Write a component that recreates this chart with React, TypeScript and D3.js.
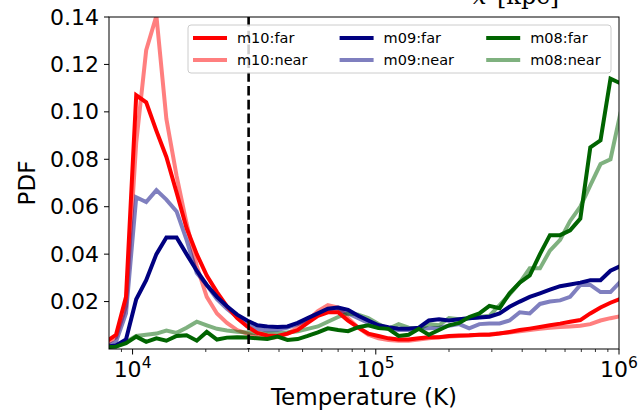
import React from "react";
import * as d3 from "d3";

// log10 of temperature bin centres (K)
const logTemperature = [
  3.890, 3.932, 3.973, 4.015, 4.056, 4.098, 4.139, 4.181, 4.222, 4.264,
  4.305, 4.347, 4.388, 4.430, 4.471, 4.513, 4.554, 4.596, 4.637, 4.679,
  4.720, 4.762, 4.803, 4.845, 4.886, 4.928, 4.969, 5.011, 5.052, 5.094,
  5.135, 5.177, 5.218, 5.260, 5.301, 5.343, 5.384, 5.426, 5.467, 5.509,
  5.550, 5.592, 5.633, 5.675, 5.716, 5.758, 5.799, 5.841, 5.882, 5.924,
  5.965, 6.007,
];

const m10Far = [
  0.003, 0.006, 0.022, 0.107, 0.104, 0.092, 0.081, 0.066, 0.051, 0.040,
  0.031, 0.024, 0.018, 0.013, 0.0095, 0.0068, 0.0057, 0.0055, 0.0065, 0.008,
  0.011, 0.014, 0.0155, 0.0155, 0.012, 0.009, 0.0065, 0.0055, 0.0045, 0.004,
  0.004, 0.0045, 0.005, 0.005, 0.0055, 0.0057, 0.0058, 0.006, 0.006, 0.0065,
  0.0072, 0.008, 0.0086, 0.0093, 0.010, 0.0107, 0.0115, 0.0122, 0.015, 0.0175,
  0.0195, 0.0212,
];
const m10Near = [
  0.002, 0.005, 0.018, 0.087, 0.126, 0.1405, 0.097, 0.073, 0.053, 0.035,
  0.022, 0.015, 0.011, 0.008, 0.0065, 0.005, 0.0045, 0.005, 0.0065, 0.009,
  0.012, 0.016, 0.0185, 0.0175, 0.013, 0.009, 0.006, 0.0045, 0.0038, 0.0035,
  0.0035, 0.004, 0.0045, 0.005, 0.0053, 0.0055, 0.0057, 0.006, 0.0062, 0.0066,
  0.007, 0.0075, 0.008, 0.0085, 0.009, 0.0093, 0.0095, 0.0098, 0.0105, 0.012,
  0.013, 0.0138,
];
const m09Far = [
  0.001, 0.0015, 0.004, 0.021, 0.029, 0.040, 0.047, 0.047, 0.040, 0.033,
  0.027, 0.022, 0.018, 0.0145, 0.012, 0.010, 0.0095, 0.0093, 0.0095, 0.011,
  0.013, 0.015, 0.017, 0.0175, 0.0165, 0.014, 0.012, 0.010, 0.0092, 0.0085,
  0.0085, 0.009, 0.012, 0.0125, 0.012, 0.0125, 0.013, 0.0133, 0.0136, 0.015,
  0.0178, 0.020, 0.022, 0.0235, 0.025, 0.0265, 0.0272, 0.028, 0.029, 0.029,
  0.033, 0.035,
];
const m09Near = [
  0.001, 0.003, 0.015, 0.064, 0.062, 0.067, 0.063, 0.058, 0.046, 0.032,
  0.027, 0.021, 0.017, 0.0135, 0.011, 0.0085, 0.0078, 0.008, 0.009, 0.0105,
  0.0125, 0.0145, 0.016, 0.0165, 0.015, 0.013, 0.011, 0.0095, 0.0085, 0.008,
  0.008, 0.0085, 0.0087, 0.009, 0.0098, 0.0105, 0.0087, 0.0105, 0.0108, 0.0108,
  0.012, 0.0155, 0.015, 0.019, 0.020, 0.0205, 0.022, 0.027, 0.027, 0.024,
  0.024, 0.0285,
];
const m08Far = [
  0.0008, 0.001, 0.0025, 0.0052, 0.003, 0.0045, 0.0035, 0.0055, 0.0058, 0.0035,
  0.0072, 0.004, 0.0048, 0.005, 0.0048, 0.0045, 0.0042, 0.0052, 0.0038, 0.0042,
  0.0055, 0.007, 0.0087, 0.008, 0.0075, 0.0092, 0.010, 0.0088, 0.0085, 0.0055,
  0.006, 0.0085, 0.006, 0.008, 0.010, 0.011, 0.0135, 0.015, 0.0182, 0.0172,
  0.0235, 0.028, 0.031, 0.040, 0.048, 0.048, 0.050, 0.055, 0.085, 0.088,
  0.114, 0.112,
];
const m08Near = [
  0.0008, 0.001, 0.003, 0.0055, 0.006, 0.0065, 0.0078, 0.0068, 0.009, 0.0115,
  0.010, 0.0085, 0.0078, 0.0073, 0.007, 0.0065, 0.0065, 0.0065, 0.007, 0.0075,
  0.0085, 0.0095, 0.0115, 0.0135, 0.015, 0.0145, 0.013, 0.0105, 0.0085, 0.0105,
  0.009, 0.0085, 0.0105, 0.010, 0.013, 0.0125, 0.013, 0.0135, 0.014, 0.0185,
  0.023, 0.028, 0.034, 0.034, 0.0415, 0.046, 0.054, 0.060, 0.069, 0.078,
  0.080, 0.100,
];

const seriesNames = ["m10:far", "m10:near", "m09:far", "m09:near", "m08:far", "m08:near"];
const seriesValues = [m10Far, m10Near, m09Far, m09Near, m08Far, m08Near];
const seriesColors = ["#ff0000", "#ff0000", "#000080", "#000080", "#006400", "#006400"];
const seriesOpacity = [1, 0.5, 1, 0.5, 1, 0.5];

const yTicks = [0.02, 0.04, 0.06, 0.08, 0.10, 0.12, 0.14];
const xMajorTicks = [1e4, 1e5, 1e6];
const xMinorTicks = [9e3, 2e4, 3e4, 4e4, 5e4, 6e4, 7e4, 8e4, 9e4, 2e5, 3e5, 4e5, 5e5, 6e5, 7e5, 8e5, 9e5];
const dashedTemperature = 3e4;
const topLabel = ["x", "[kpc]"];

const W = 638, H = 413;
const L = 109, R = 619, T = 17, B = 349;
const FONT = "'DejaVu Sans', sans-serif";

export default function App() {
  const x = d3.scaleLog().domain([8000, 1e6]).range([L, R]);
  const y = d3.scaleLinear().domain([0, 0.14]).range([B, T]);
  const line = d3
    .line<number>()
    .x((_, i) => x(Math.pow(10, logTemperature[i])))
    .y((d) => y(d));

  const drawOrder = [1, 3, 5, 0, 2, 4];

  return (
    <div style={{ position: "fixed", left: 0, top: 0, width: W, height: H, background: "#fff" }}>
      <svg width={W} height={H} style={{ display: "block" }}>
        <defs>
          <clipPath id="plotClip">
            <rect x={L} y={T} width={R - L} height={B - T} />
          </clipPath>
        </defs>
        <rect x={0} y={0} width={W} height={H} fill="#fff" />

        {/* top (cut) label */}
        <text x={473} y={3.5} fontFamily="'DejaVu Serif', serif" fontStyle="italic" fontSize={24} fill="#000">
          {topLabel[0]}
        </text>
        <text x={497} y={3.5} fontFamily="'DejaVu Serif', serif" fontSize={24} fill="#000">
          {topLabel[1]}
        </text>

        <g clipPath="url(#plotClip)">
          {drawOrder.map((k) => (
            <path
              key={seriesNames[k]}
              d={line(seriesValues[k]) || ""}
              fill="none"
              stroke={seriesColors[k]}
              strokeOpacity={seriesOpacity[k]}
              strokeWidth={4}
              strokeLinejoin="miter"
              strokeLinecap="butt"
            />
          ))}
          <line
            x1={x(dashedTemperature)}
            x2={x(dashedTemperature)}
            y1={T}
            y2={B}
            stroke="#000"
            strokeWidth={2.6}
            strokeDasharray="9.6 4.2"
          />
        </g>

        {/* axes frame */}
        <rect x={L} y={T} width={R - L} height={B - T} fill="none" stroke="#000" strokeWidth={1} />

        {/* y ticks */}
        {yTicks.map((t) => (
          <g key={t}>
            <line x1={L - 5} x2={L} y1={y(t)} y2={y(t)} stroke="#000" strokeWidth={1} />
            <text
              x={L - 10}
              y={y(t)}
              textAnchor="end"
              dominantBaseline="central"
              fontFamily={FONT}
              fontSize={22}
              fill="#000"
            >
              {t.toFixed(2)}
            </text>
          </g>
        ))}

        {/* x ticks */}
        {xMinorTicks.map((t) => (
          <line key={t} x1={x(t)} x2={x(t)} y1={B} y2={B + 3} stroke="#000" strokeWidth={0.8} />
        ))}
        {xMajorTicks.map((t) => (
          <g key={t}>
            <line x1={x(t)} x2={x(t)} y1={B} y2={B + 5.5} stroke="#000" strokeWidth={1} />
            <text x={x(t)} y={377} textAnchor="middle" fontFamily={FONT} fontSize={22} fill="#000">
              <tspan>10</tspan>
              <tspan dy={-9} fontSize={15.5}>
                {Math.round(Math.log10(t))}
              </tspan>
            </text>
          </g>
        ))}

        {/* axis labels */}
        <text x={(L + R) / 2} y={405} textAnchor="middle" fontFamily={FONT} fontSize={23} fill="#000">
          Temperature (K)
        </text>
        <text
          transform={`translate(35,${(T + B) / 2}) rotate(-90)`}
          textAnchor="middle"
          fontFamily={FONT}
          fontSize={23}
          fill="#000"
        >
          PDF
        </text>

        {/* legend */}
        <rect x={188} y={25} width={423} height={48} rx={3} fill="#fff" fillOpacity={0.8} stroke="#cccccc" strokeWidth={1} />
        {seriesNames.map((name, k) => {
          const col = Math.floor(k / 2);
          const row = k % 2;
          const lx = 193 + col * 146.6;
          const ly = 38 + row * 22;
          return (
            <g key={name}>
              <line
                x1={lx}
                x2={lx + 34}
                y1={ly}
                y2={ly}
                stroke={seriesColors[k]}
                strokeOpacity={seriesOpacity[k]}
                strokeWidth={4}
              />
              <text x={lx + 44} y={ly} dominantBaseline="central" fontFamily={FONT} fontSize={14.5} fill="#000">
                {name}
              </text>
            </g>
          );
        })}
      </svg>
    </div>
  );
}
